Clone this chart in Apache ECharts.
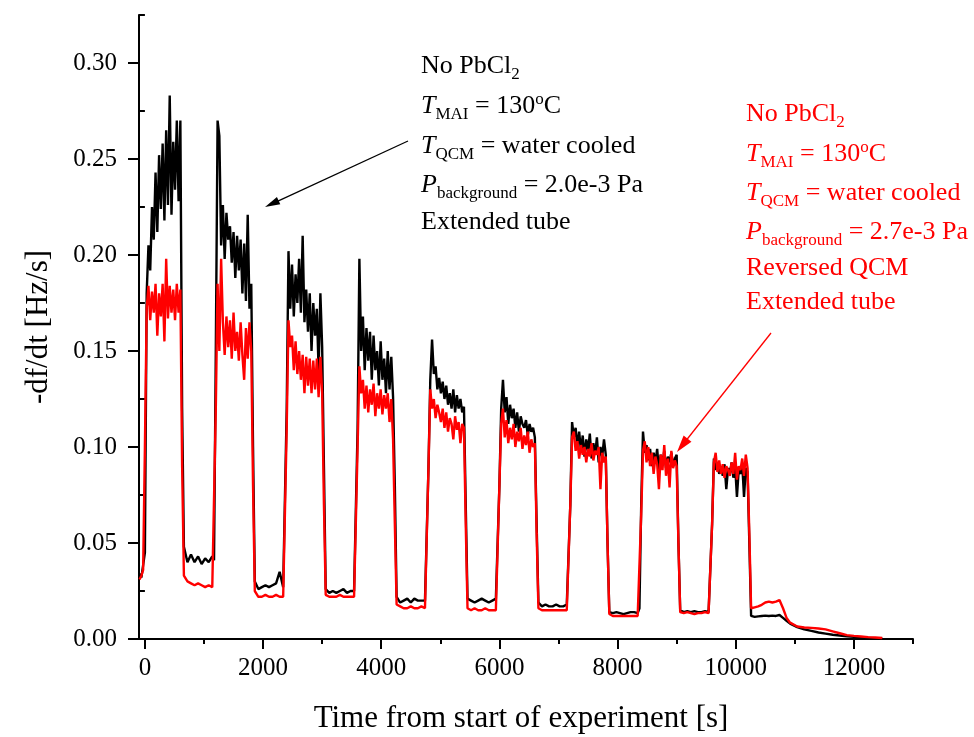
<!DOCTYPE html>
<html>
<head>
<meta charset="utf-8">
<script src="https://cdn.jsdelivr.net/npm/echarts@6/dist/echarts.min.js"></script>
<style>
html,body{margin:0;padding:0;background:#fff;}
#chart{width:974px;height:737px;}
</style>
</head>
<body>
<div id="chart"></div>
<script>
// ---- data (time in s, rate in Hz/s) ----
const timeSec = [
  -90, -60, -30,
  0,30,60,90,120,150,180,210,240,270,300,330,360,390,420,450,480,510,540,570,600, 630,660, 720,780,840,900,960,1020,1080,1140, 1170,
  1200,1230,1260,1290,1320,1350,1380,1410,1440,1470,1500,1530,1560,1590,1620,1650,1680,1710,1740,1770,1800, 1830,1860, 1920,1980,2040,2100,2160,2220,2280,2340, 2370,
  2400,2430,2460,2490,2520,2550,2580,2610,2640,2670,2700,2730,2760,2790,2820,2850,2880,2910,2940,2970,3000, 3030,3060, 3120,3180,3240,3300,3360,3420,3480,3540, 3570,
  3600,3630,3660,3690,3720,3750,3780,3810,3840,3870,3900,3930,3960,3990,4020,4050,4080,4110,4140,4170,4200, 4230,4260, 4320,4380,4440,4500,4560,4620,4680,4740, 4770,
  4800,4830,4860,4890,4920,4950,4980,5010,5040,5070,5100,5130,5160,5190,5220,5250,5280,5310,5340,5370,5400, 5430,5460, 5520,5580,5640,5700,5760,5820,5880,5940, 5970,
  6000,6030,6060,6090,6120,6150,6180,6210,6240,6270,6300,6330,6360,6390,6420,6450,6480,6510,6540,6570,6600, 6630,6660, 6720,6780,6840,6900,6960,7020,7080,7140, 7170,
  7200,7230,7260,7290,7320,7350,7380,7410,7440,7470,7500,7530,7560,7590,7620,7650,7680,7710,7740,7770,7800, 7830,7860, 7920,7980,8040,8100,8160,8220,8280,8340, 8370,
  8400,8430,8460,8490,8520,8550,8580,8610,8640,8670,8700,8730,8760,8790,8820,8850,8880,8910,8940,8970,9000, 9030,9060, 9120,9180,9240,9300,9360,9420,9480,9540, 9570,
  9600,9630,9660,9690,9720,9750,9780,9810,9840,9870,9900,9930,9960,9990,10020,10050,10080,10110,10140,10170,10200, 10230,10260,
  10320,10380,10440,10500,10560,10620,10680,10740,10800,10860,10920,11040,11160,11280,11400,11520,11640,11760,11880,12000,12120,12240,12360,12480
];

// Black: Extended tube, P = 2.0e-3 Pa
const rateBlack = [
  0.034, 0.032, 0.031,
  0.045, 0.180,0.205,0.192,0.225,0.208,0.243,0.212,0.252,0.224,0.258,0.218,0.265,0.226,0.283,0.221,0.259,0.234,0.270,0.228,0.270, 0.120,0.048, 0.040,0.044,0.040,0.043,0.039,0.042,0.040,0.043, 0.041,
  0.150, 0.270,0.262,0.205,0.226,0.198,0.222,0.208,0.215,0.196,0.212,0.188,0.210,0.192,0.208,0.180,0.206,0.176,0.221,0.172,0.185, 0.100,0.030, 0.026,0.027,0.028,0.027,0.028,0.029,0.035,0.027, 0.028,
  0.120, 0.202,0.172,0.195,0.168,0.190,0.175,0.198,0.170,0.210,0.165,0.182,0.160,0.180,0.150,0.175,0.158,0.172,0.140,0.180,0.152, 0.090,0.026, 0.024,0.025,0.024,0.025,0.026,0.024,0.025,0.025, 0.025,
  0.110, 0.198,0.150,0.168,0.140,0.162,0.145,0.160,0.135,0.158,0.140,0.150,0.132,0.155,0.135,0.146,0.128,0.150,0.130,0.147,0.126, 0.080,0.022, 0.019,0.020,0.021,0.019,0.021,0.020,0.020,0.020, 0.020,
  0.090, 0.135,0.156,0.138,0.142,0.130,0.136,0.128,0.134,0.125,0.132,0.122,0.128,0.120,0.130,0.118,0.127,0.120,0.125,0.118,0.121, 0.070,0.021, 0.020,0.019,0.020,0.021,0.020,0.019,0.020,0.021, 0.020,
  0.080, 0.120,0.135,0.118,0.126,0.112,0.122,0.115,0.120,0.110,0.118,0.108,0.116,0.112,0.110,0.114,0.106,0.112,0.108,0.110,0.105, 0.060,0.019, 0.017,0.018,0.017,0.017,0.018,0.017,0.017,0.018, 0.017,
  0.070, 0.113,0.105,0.110,0.100,0.108,0.098,0.106,0.095,0.104,0.098,0.107,0.094,0.102,0.096,0.105,0.092,0.100,0.095,0.104,0.096, 0.050,0.014, 0.0135,0.014,0.0135,0.013,0.0135,0.014,0.014,0.0135, 0.016,
  0.070, 0.108,0.097,0.101,0.093,0.099,0.090,0.097,0.092,0.099,0.088,0.096,0.091,0.098,0.089,0.095,0.092,0.097,0.090,0.094,0.096, 0.050,0.015, 0.014,0.0145,0.014,0.0145,0.014,0.014,0.0145,0.014, 0.015,
  0.060, 0.094,0.088,0.092,0.086,0.090,0.085,0.091,0.078,0.089,0.086,0.092,0.084,0.090,0.074,0.088,0.086,0.091,0.074,0.089,0.087, 0.050,0.012,
  0.0115,0.0118,0.012,0.0122,0.012,0.0122,0.012,0.0125,0.011,0.0095,0.008,0.0062,0.005,0.0042,0.0034,0.0028,0.0022,0.0018,0.0014,0.0011,0.0008,0.0006,0.0004,0.0003
];

// Red: Reversed QCM, Extended tube, P = 2.7e-3 Pa
const rateRed = [
  0.031, 0.033, 0.036,
  0.100, 0.172,0.184,0.166,0.181,0.170,0.185,0.158,0.180,0.168,0.185,0.155,0.198,0.167,0.184,0.170,0.182,0.166,0.185,0.170,0.182, 0.090,0.033, 0.030,0.029,0.028,0.029,0.028,0.027,0.028,0.027, 0.028,
  0.120, 0.185,0.150,0.198,0.165,0.148,0.168,0.152,0.166,0.146,0.170,0.150,0.160,0.145,0.165,0.148,0.135,0.162,0.146,0.165,0.150, 0.080,0.025, 0.022,0.022,0.023,0.022,0.022,0.023,0.022,0.022, 0.023,
  0.110, 0.166,0.152,0.158,0.140,0.155,0.138,0.150,0.135,0.148,0.128,0.147,0.132,0.146,0.128,0.145,0.130,0.146,0.126,0.147,0.128, 0.070,0.023, 0.022,0.022,0.022,0.023,0.022,0.022,0.022,0.022, 0.023,
  0.100, 0.142,0.128,0.135,0.120,0.132,0.118,0.130,0.122,0.133,0.116,0.128,0.120,0.130,0.117,0.127,0.120,0.128,0.113,0.125,0.104, 0.060,0.018, 0.017,0.016,0.016,0.017,0.016,0.016,0.017,0.016, 0.017,
  0.090, 0.130,0.120,0.125,0.115,0.122,0.118,0.113,0.120,0.110,0.118,0.108,0.115,0.112,0.104,0.116,0.109,0.113,0.102,0.112,0.110, 0.060,0.016, 0.015,0.016,0.015,0.015,0.016,0.015,0.015,0.015, 0.016,
  0.080, 0.112,0.120,0.105,0.114,0.102,0.110,0.104,0.112,0.100,0.108,0.103,0.110,0.099,0.106,0.101,0.108,0.097,0.104,0.100,0.102, 0.055,0.016, 0.015,0.015,0.015,0.015,0.015,0.015,0.015,0.015, 0.015,
  0.070, 0.105,0.108,0.098,0.103,0.094,0.101,0.096,0.100,0.092,0.099,0.095,0.102,0.093,0.098,0.096,0.100,0.078,0.097,0.092,0.095, 0.050,0.013, 0.012,0.012,0.012,0.012,0.012,0.012,0.012,0.012, 0.013,
  0.065, 0.098,0.103,0.092,0.100,0.090,0.097,0.086,0.095,0.091,0.078,0.096,0.088,0.101,0.085,0.094,0.079,0.098,0.089,0.093,0.090, 0.050,0.014, 0.0135,0.014,0.0135,0.013,0.0135,0.0135,0.014,0.0135, 0.014,
  0.060, 0.092,0.097,0.087,0.093,0.086,0.091,0.084,0.090,0.088,0.085,0.092,0.086,0.097,0.083,0.090,0.088,0.094,0.085,0.096,0.089, 0.055,0.016,
  0.0165,0.017,0.0178,0.019,0.0195,0.019,0.0195,0.0203,0.016,0.011,0.0085,0.0065,0.006,0.0058,0.0055,0.005,0.004,0.003,0.002,0.0016,0.0013,0.001,0.0008,0.0005
];

const xMajorTicks = [0, 2000, 4000, 6000, 8000, 10000, 12000];
const xMinorTicks = [1000, 3000, 5000, 7000, 9000, 11000, 13000];
const yMajorTicks = [0, 0.05, 0.10, 0.15, 0.20, 0.25, 0.30];
const yMinorTicks = [0.025, 0.075, 0.125, 0.175, 0.225, 0.275, 0.325];

const xTitle = 'Time from start of experiment [s]';
const yTitle = '-df/dt [Hz/s]';

// ---- chart ----
const FONT = '"Liberation Serif", "Times New Roman", serif';
const chart = echarts.init(document.getElementById('chart'), null, {renderer: 'canvas'});

const blackData = timeSec.map((t, i) => [t, rateBlack[i]]);
const redData = timeSec.map((t, i) => [t, rateRed[i]]);

const axisLine = {show: true, onZero: false, lineStyle: {color: '#000', width: 2}};

// all tokens are centred vertically on the line; padding shifts sub/superscripts
function richStyles(color) {
  return {
    n: {fontFamily: FONT, fontSize: 26, color: color, lineHeight: 30},
    i: {fontFamily: FONT, fontSize: 26, fontStyle: 'italic', color: color, lineHeight: 30},
    s: {fontFamily: FONT, fontSize: 17, color: color, lineHeight: 18, padding: [16, 0, 0, 0]},
    p: {fontFamily: FONT, fontSize: 17, color: color, lineHeight: 18, padding: [0, 0, 13, 0]}
  };
}

function textLine(x, yTop, text, color) {
  return {
    type: 'text', left: x, top: yTop, z: 100,
    style: {text: text, rich: richStyles(color), fill: color, font: '26px ' + FONT}
  };
}

function arrow(x1, y1, x2, y2, color, headLen, headHalfW, lw) {
  const dx = x2 - x1, dy = y2 - y1;
  const L = Math.sqrt(dx * dx + dy * dy);
  const ux = dx / L, uy = dy / L;
  const bx = x2 - ux * headLen, by = y2 - uy * headLen;
  const px = -uy, py = ux;
  return [
    {type: 'line', z: 100, shape: {x1: x1, y1: y1, x2: bx + ux * 2, y2: by + uy * 2}, style: {stroke: color, lineWidth: lw}},
    {type: 'polygon', z: 100, shape: {points: [[x2, y2], [bx + px * headHalfW, by + py * headHalfW], [bx - px * headHalfW, by - py * headHalfW]]}, style: {fill: color}}
  ];
}

const blackLines = [
  '{n|No PbCl}{s|2}',
  '{i|T}{s|MAI}{n| = 130}{p|o}{n|C}',
  '{i|T}{s|QCM}{n| = water cooled}',
  '{i|P}{s|background}{n| = 2.0e-3 Pa}',
  '{n|Extended tube}'
];
const redLines = [
  '{n|No PbCl}{s|2}',
  '{i|T}{s|MAI}{n| = 130}{p|o}{n|C}',
  '{i|T}{s|QCM}{n| = water cooled}',
  '{i|P}{s|background}{n| = 2.7e-3 Pa}',
  '{n|Reversed QCM}',
  '{n|Extended tube}'
];
const blackTops = [50, 90, 130, 169, 209];
const redTops = [98, 138, 177, 216, 255, 289];

const graphics = [];
blackLines.forEach((t, k) => graphics.push(textLine(421, blackTops[k], t, '#000')));
redLines.forEach((t, k) => graphics.push(textLine(746, redTops[k], t, '#ff0000')));
arrow(408, 141, 265, 207, '#000', 15, 4, 1.3).forEach(g => graphics.push(g));
arrow(771, 333, 677, 452, '#ff0000', 17, 5, 1.3).forEach(g => graphics.push(g));

const option = {
  animation: false,
  backgroundColor: '#fff',
  grid: {left: 139, right: 61, top: 15, bottom: 98, containLabel: false, outerBoundsMode: 'none'},
  xAxis: [
    {
      type: 'value', min: -100, max: 13000,
      name: xTitle, nameLocation: 'middle', nameGap: 64,
      nameTextStyle: {fontFamily: FONT, fontSize: 31, color: '#000', padding: [0, 10, 0, 0]},
      axisLine: axisLine,
      axisTick: {show: true, inside: false, length: 10, lineStyle: {color: '#000', width: 2}, customValues: xMajorTicks},
      axisLabel: {show: true, fontFamily: FONT, fontSize: 25, color: '#000', margin: 17, customValues: xMajorTicks,
        formatter: v => String(v)},
      splitLine: {show: false}
    },
    {
      type: 'value', min: -100, max: 13000, position: 'bottom',
      axisLine: {show: false},
      axisTick: {show: true, inside: false, length: 5, lineStyle: {color: '#000', width: 2}, customValues: xMinorTicks},
      axisLabel: {show: false},
      splitLine: {show: false}
    }
  ],
  yAxis: [
    {
      type: 'value', min: 0, max: 0.325,
      name: yTitle, nameLocation: 'middle', nameGap: 85, nameRotate: 90,
      nameTextStyle: {fontFamily: FONT, fontSize: 31, color: '#000'},
      axisLine: axisLine,
      axisTick: {show: true, inside: false, length: 11, lineStyle: {color: '#000', width: 2}, customValues: yMajorTicks},
      axisLabel: {show: true, fontFamily: FONT, fontSize: 25, color: '#000', margin: 22, customValues: yMajorTicks,
        formatter: v => v.toFixed(2)},
      splitLine: {show: false}
    },
    {
      type: 'value', min: 0, max: 0.325, position: 'left',
      axisLine: {show: false},
      axisTick: {show: true, inside: false, length: 6, lineStyle: {color: '#000', width: 2}, customValues: yMinorTicks},
      axisLabel: {show: false},
      splitLine: {show: false}
    }
  ],
  series: [
    {type: 'line', name: 'black', data: blackData, xAxisIndex: 0, yAxisIndex: 0, showSymbol: false, symbol: 'none',
      lineStyle: {color: '#000', width: 2.4}, z: 2},
    {type: 'line', name: 'red', data: redData, xAxisIndex: 0, yAxisIndex: 0, showSymbol: false, symbol: 'none',
      lineStyle: {color: '#ff0000', width: 2.4}, z: 3}
  ],
  graphic: graphics
};
chart.setOption(option);
</script>
</body>
</html>
